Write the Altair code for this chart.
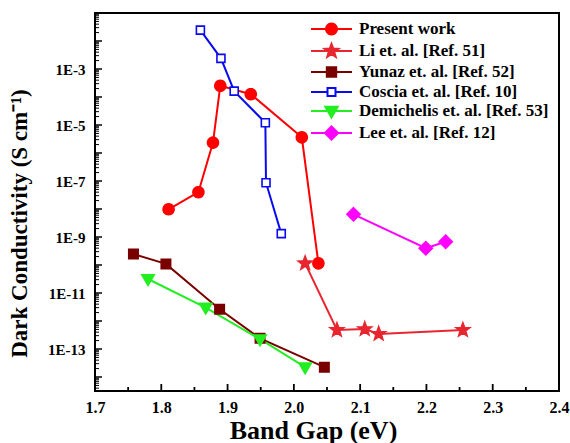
import math
import altair as alt
import pandas as pd

FONT = "Liberation Serif"

series_names = ["Present work", "Li et. al. [Ref. 51]", "Yunaz et. al. [Ref. 52]",
                "Coscia et. al. [Ref. 10]", "Demichelis et. al. [Ref. 53]", "Lee et. al. [Ref. 12]"]
line_colors = ["#FF0000", "#E8262F", "#7A0000", "#0A0AF0", "#22EE22", "#FF00FF"]
fill_colors = ["#FF0000", "#E8262F", "#7A0000", "#FFFFFF", "#22EE22", "#FF00FF"]

# band gap (eV) and log10 of dark conductivity (S/cm)
present_gap = [1.811, 1.856, 1.878, 1.889, 1.935, 2.012, 2.037]
present_log = [-8.01, -7.40, -5.63, -3.60, -3.90, -5.44, -9.94]
li_gap = [2.017, 2.065, 2.107, 2.128, 2.255]
li_log = [-9.94, -12.32, -12.29, -12.46, -12.32]
yunaz_gap = [1.758, 1.807, 1.888, 1.949, 2.046]
yunaz_log = [-9.61, -9.96, -11.58, -12.62, -13.65]
coscia_gap = [1.859, 1.890, 1.910, 1.957, 1.958, 1.981]
coscia_log = [-1.61, -2.62, -3.79, -4.92, -7.06, -8.88]
demi_gap = [1.780, 1.867, 1.949, 2.017]
demi_log = [-10.50, -11.52, -12.65, -13.65]
lee_gap = [2.090, 2.199, 2.229]
lee_log = [-8.19, -9.40, -9.17]

x_ticks = [1.7, 1.8, 1.9, 2.0, 2.1, 2.2, 2.3, 2.4]
x_minor = [1.75, 1.85, 1.95, 2.05, 2.15, 2.25, 2.35]
y_label_exp = [-3, -5, -7, -9, -11, -13]
y_decades = list(range(-14, -1))

groups = [(present_gap, present_log), (li_gap, li_log), (yunaz_gap, yunaz_log),
          (coscia_gap, coscia_log), (demi_gap, demi_log), (lee_gap, lee_log)]
rows = []
for name, (gs, ls) in zip(series_names, groups):
    for i, (g, l) in enumerate(zip(gs, ls)):
        rows.append({"series": name, "gap": g, "cond": 10.0 ** l, "idx": i})
df = pd.DataFrame(rows)


def poly_path(pts):
    return "M" + "L".join(f"{x:.3f},{y:.3f}" for x, y in pts) + "Z"


def circle_path(r, n=24):
    return poly_path([(r * math.cos(2 * math.pi * k / n), r * math.sin(2 * math.pi * k / n)) for k in range(n)])


def star_path(ro, ri):
    pts = []
    for k in range(10):
        a = -math.pi / 2 + k * math.pi / 5
        r = ro if k % 2 == 0 else ri
        pts.append((r * math.cos(a), r * math.sin(a)))
    return poly_path(pts)


markers = [
    circle_path(0.55),
    star_path(0.72, 0.30),
    "M-0.47,-0.47L0.47,-0.47L0.47,0.47L-0.47,0.47Z",
    "M-0.4,-0.4L0.4,-0.4L0.4,0.4L-0.4,0.4Z",
    "M-0.62,-0.42L0.62,-0.42L0,0.64Z",
    "M0,-0.66L0.66,0L0,0.66L-0.66,0Z",
]
gaps = [0, 0, 0, 0.4, 0, 0]
legend_shapes = []
for m, gp in zip(markers, gaps):
    if gp:
        line = f"M-2.05,0L{-gp},0M{gp},0L2.05,0"
    else:
        line = "M-2.05,0L2.05,0"
    legend_shapes.append(line + m)

xscale = alt.Scale(domain=[1.7, 2.4], nice=False, zero=False)
yscale = alt.Scale(type="log", domain=[10 ** -14.5, 10 ** -1], nice=False)

x_axis = alt.Axis(values=x_ticks, format=".1f", title="Band Gap (eV)",
                  titleX=218, titleY=39, titleBaseline="middle")
y_axis = alt.Axis(values=[10.0 ** e for e in y_label_exp],
                  labelExpr="'1E' + round(log(datum.value)/LN10)",
                  title="Dark Conductivity (S cm⁻¹)",
                  titleX=-76, titleY=210, titleBaseline="middle", titleAngle=-90)

X = alt.X("gap:Q", scale=xscale, axis=x_axis)
Y = alt.Y("cond:Q", scale=yscale, axis=y_axis)

lines = alt.Chart(df).mark_line(strokeWidth=2).encode(
    x=X, y=Y,
    color=alt.Color("series:N", scale=alt.Scale(domain=series_names, range=line_colors), legend=None),
    order="idx:Q",
)

points = alt.Chart(df).mark_point(size=400, opacity=1, strokeWidth=1.6).encode(
    x=X, y=Y,
    shape=alt.Shape("series:N", scale=alt.Scale(domain=series_names, range=markers), legend=None),
    fill=alt.Fill("series:N", scale=alt.Scale(domain=series_names, range=fill_colors), legend=None),
    stroke=alt.Stroke("series:N", scale=alt.Scale(domain=series_names, range=line_colors), legend=None),
)

leg = alt.Legend(orient="none", legendX=225.5, legendY=5, title=None)

legend_layer = alt.Chart(df).transform_filter("false").mark_point(size=400, opacity=1, strokeWidth=2).encode(
    x=X, y=Y,
    shape=alt.Shape("series:N", scale=alt.Scale(domain=series_names, range=legend_shapes), legend=leg),
    fill=alt.Fill("series:N", scale=alt.Scale(domain=series_names, range=fill_colors), legend=leg),
    stroke=alt.Stroke("series:N", scale=alt.Scale(domain=series_names, range=line_colors), legend=leg),
)

# inward ticks
H = 378
ymaj = pd.DataFrame({"cond": [10.0 ** e for e in y_decades]})
ymin = pd.DataFrame({"cond": [m * 10.0 ** e for e in range(-15, -1) for m in range(2, 10)
                              if 10 ** -14.5 <= m * 10.0 ** e <= 0.1]})
xmaj = pd.DataFrame({"gap": x_ticks[1:-1]})
xmin = pd.DataFrame({"gap": x_minor})

ymaj_r = alt.Chart(ymaj).mark_tick(color="black", size=7, thickness=1.5, orient="horizontal",
                                   opacity=1).encode(y=Y, x=alt.value(3.5))
ymin_r = alt.Chart(ymin).mark_tick(color="black", size=4, thickness=1, orient="horizontal",
                                   opacity=1).encode(y=Y, x=alt.value(2))
xmaj_r = alt.Chart(xmaj).mark_tick(color="black", size=7, thickness=1.8, orient="vertical",
                                   opacity=1).encode(x=X, y=alt.value(H - 3.5))
xmin_r = alt.Chart(xmin).mark_tick(color="black", size=4, thickness=1.8, orient="vertical",
                                   opacity=1).encode(x=X, y=alt.value(H - 2))

chart = alt.layer(lines, points, legend_layer, ymaj_r, ymin_r, xmaj_r, xmin_r).resolve_scale(
    color="independent", shape="independent", fill="independent", stroke="independent"
).properties(
    width=464, height=H,
    padding={"left": 95, "top": 13, "right": 11, "bottom": 52},
    autosize=alt.AutoSizeParams(type="none"),
    background="white",
).configure(font=FONT).configure_view(
    stroke="black", strokeWidth=2, clip=False
).configure_axis(
    ticks=False, tickSize=0, domain=False, grid=False, labelFlush=False, labelOverlap=False,
    labelFont=FONT, labelFontWeight="bold", labelColor="black", labelPadding=8,
    titleFont=FONT, titleFontWeight="bold", titleColor="black",
).configure_axisX(labelFontSize=16, titleFontSize=26).configure_axisY(
    labelFontSize=15, labelPadding=10, titleFontSize=23
).configure_legend(
    symbolSize=400, symbolStrokeWidth=2, symbolOpacity=1, labelOffset=16.5, rowPadding=0,
    padding=0, labelFont=FONT, labelFontSize=17, labelFontWeight="bold", labelColor="black",
    labelLimit=400, labelBaseline="middle"
)

chart.save("out.html", embed_options={"renderer": "svg", "actions": False})
